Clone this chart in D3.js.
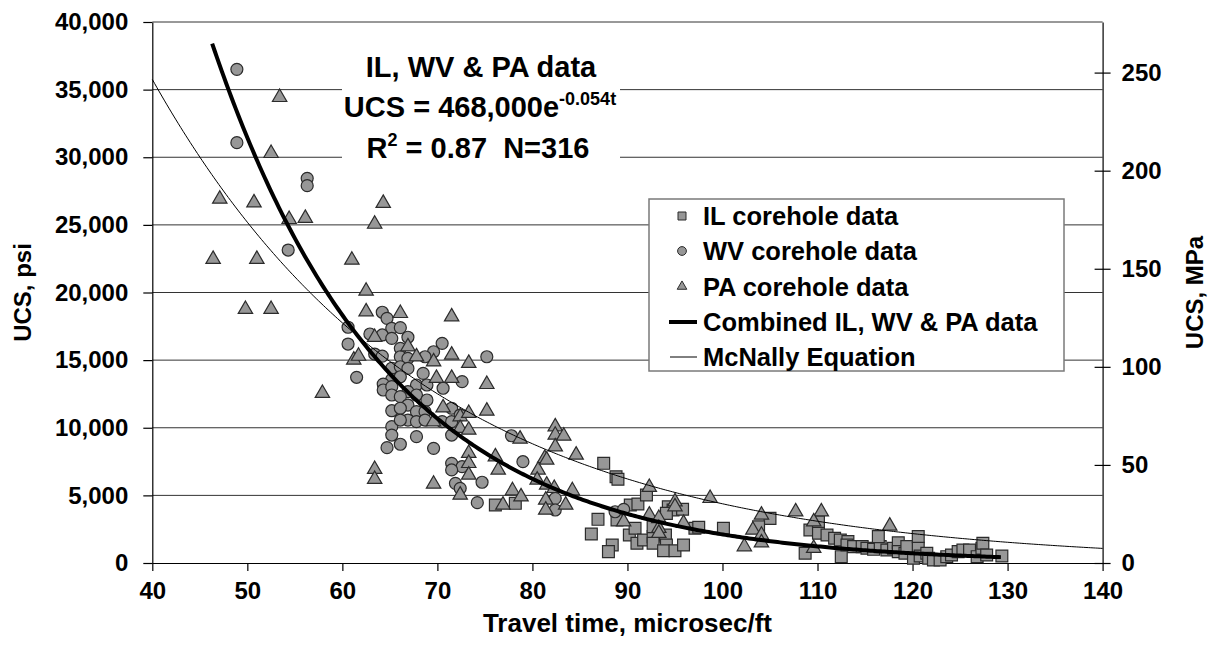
<!DOCTYPE html>
<html><head><meta charset="utf-8">
<script src="https://cdn.jsdelivr.net/npm/d3@7"></script>
<style>
html,body{margin:0;padding:0;background:#fff;}
text{font-family:"Liberation Sans",Arial,sans-serif;font-weight:bold;fill:#000;}
</style></head>
<body>
<svg id="chart" width="1216" height="652"></svg>
<script>
// ---- data (travel time microsec/ft, UCS psi) ----
const ilData = [
[76.1,4290],[78.2,4410],[87.5,7370],[88.8,6380],[89.0,6190],[86.9,3230],[86.2,2140],[88.4,1330],[88.0,840],[90.3,4290],[91.1,4360],[92.0,5030],[88.9,3180],[90.2,2070],[90.8,2570],[91.0,1460],[91.7,1700],[92.7,1950],[92.7,1460],[94.0,2070],[94.1,1330],[93.8,910],[95.0,910],[95.9,1330],[94.3,4160],[94.8,3920],[95.8,3970],[97.1,2570],[94.1,3670],[92.7,2680],
[97.5,2640],[100.1,2570],[105.0,3300],[103.8,2680],[108.7,720],[109.2,2440],[110.1,3050],[110.1,2200],[111.0,2070],[111.8,1830],[112.4,1700],[113.2,1580],[112.5,470],[113.1,1330],[113.8,1210],[114.7,1210],[115.2,1090],[115.9,1010],[116.6,1210],[117.3,960],[118.0,1090],[118.5,1500],[118.5,840],[119.2,720],[119.4,1210],[120.1,350],[120.6,1950],[120.6,1090],[120.8,520],[121.5,720],[121.7,350],[122.2,220],[122.9,220],[123.6,470],[124.1,590],[124.8,840],[125.3,960],[126.0,960],[126.8,470],[127.3,1090],[127.4,1460],[127.8,590],[129.4,520],[116.4,1950]
];
const wvData = [
[48.9,36500],[48.9,31080],[56.3,28440],[56.3,27900],[54.3,23140],
[64.2,18540],[64.7,18090],[60.6,17430],[65.2,17350],[62.9,16930],[64.2,16860],[65.2,16610],[60.6,16190],[63.4,15450],[64.2,15300],[65.2,14400],[61.5,13730],[65.2,13580],[64.3,13230],[64.3,12790],[65.2,13040],[65.2,12420],[65.2,11260],[65.2,10080],[65.2,9460],[64.7,8530],
[66.1,17400],[66.9,16690],[66.1,15870],[70.5,16240],[69.6,15620],[66.1,15250],[66.9,15130],[68.7,15250],[66.1,14510],[66.9,14390],[68.5,14020],[66.1,13770],[67.8,13160],[68.9,13160],[66.9,12670],[66.1,12300],[67.8,12420],[68.9,12050],[66.9,11680],[66.1,11440],[67.8,11190],[68.7,11190],[66.9,10570],[67.8,10450],[66.1,10570],[68.7,10570],[70.5,10450],[71.5,10450],[71.5,11440],[72.6,13410],[70.6,12920],[75.2,15250],[66.1,8780],[67.8,9340],[69.6,8480],[77.8,9410],[71.5,9460],[72.4,10940],[71.5,7370],[72.6,7120],[71.5,6880],[79.0,7490],
[74.2,4460],[74.7,5970],[71.9,5890],[72.4,5520],[82.4,4780],[82.4,3920],[88.7,3790],[89.6,3970]
];
const paData = [
[53.4,34430],[52.5,30290],[47.1,26910],[50.7,26640],[64.3,26600],[54.4,25410],[56.1,25490],[63.4,25060],[46.4,22460],[51.0,22460],[61.0,22400],
[62.5,20110],
[49.8,18760],[52.5,18760],[62.5,18580],[66.1,18460],[63.4,16690],[61.2,15010],[61.7,15300],[57.9,12550],[63.4,6930],[63.4,6190],[69.6,5840],
[71.5,18210],[66.9,15990],[67.8,15250],[69.6,14880],[71.5,15380],[73.3,14770],[69.9,13660],[71.5,13660],[75.2,13210],[70.6,11480],[72.4,10820],[73.3,11070],[75.2,11240],[69.6,10450],[72.4,9960],[73.3,9830],[78.7,9170],[73.3,8110],[76.1,7860],[73.3,7370],[76.4,6880],[80.6,6880],[81.3,7740],
[72.4,5030],[76.9,4290],[77.9,5350],[78.8,4900],[73.3,6510],[80.5,6140],[81.5,5770],[81.4,4660],[81.4,3920],[83.5,4290],[82.3,5520],[84.2,5350],[82.4,10080],[82.4,9460],[83.3,9390],[82.4,8600],[84.6,7990],[81.5,7620],[92.3,5600],[92.3,3550],[93.3,3300],[93.3,2570],[93.3,2200],[95.0,4530],[95.0,4160],[95.9,2940],[89.6,3050],
[98.7,4780],[104.1,3550],[103.2,2440],[104.1,2070],[104.1,1500],[102.3,1210],[107.7,3790],[110.4,3790],[109.6,3050],[109.6,1090],[117.6,2740]
];
// fitted curves: UCS = A * exp(-k t)
const combinedFit = {A: 468000, k: 0.054, tMin: 46.3, tMax: 129.5};
const mcnallyFit = {A: 145000, k: 0.035, tMin: 40, tMax: 140};
const xTicks = [40,50,60,70,80,90,100,110,120,130,140];
const yTicks = [0,5000,10000,15000,20000,25000,30000,35000,40000];
const mpaTicks = [0,50,100,150,200,250];
const PSI_PER_MPA = 145.0377;
const legendItems = ["IL corehole data","WV corehole data","PA corehole data","Combined IL, WV & PA data","McNally Equation"];

// ---- layout ----
const svg = d3.select("#chart");
const X0 = 152.3, X1 = 1102.6, Y0 = 563, Y1 = 22;
const x = d3.scaleLinear().domain([40,140]).range([X0,X1]);
const y = d3.scaleLinear().domain([0,40000]).range([Y0,Y1]);
const yR = d3.scaleLinear().domain([0,40000/PSI_PER_MPA]).range([Y0,Y1]);

const FILL = "#979797", STROKE = "#2b2b2b";

// gridlines
svg.append("g").selectAll("line").data(yTicks.filter(d=>d>0)).join("line")
  .attr("x1",X0).attr("x2",X1).attr("y1",d=>y(d)).attr("y2",d=>y(d))
  .attr("stroke","#333").attr("stroke-width",1);

// annotation background
svg.append("rect").attr("x",342).attr("y",40).attr("width",278).attr("height",126).attr("fill","#fff");

// axes
const gL = svg.append("g").attr("transform",`translate(${X0},0)`)
  .call(d3.axisLeft(y).tickValues(yTicks).tickSize(9).tickSizeOuter(0).tickPadding(15).tickFormat(d3.format(",")));
const gR = svg.append("g").attr("transform",`translate(${X1},0)`)
  .call(d3.axisRight(yR).tickValues(mpaTicks).tickSize(8).tickSizeOuter(0).tickPadding(11));
gR.selectAll(".tick line").attr("x1",-8);
const gB = svg.append("g").attr("transform",`translate(0,${Y0})`)
  .call(d3.axisBottom(x).tickValues(xTicks).tickSize(8).tickSizeOuter(0).tickPadding(11));
[gL,gR,gB].forEach(g=>{
  g.selectAll("path.domain").attr("stroke","#000").attr("stroke-width",1.2);
  g.selectAll(".tick line").attr("stroke","#000").attr("stroke-width",1.2);
  g.selectAll("text").attr("font-size",24).attr("font-family",'"Liberation Sans",Arial,sans-serif').attr("font-weight","bold").attr("fill","#000");
});

// axis titles
svg.append("text").attr("transform",`translate(31,${(Y0+Y1)/2}) rotate(-90)`).attr("text-anchor","middle").attr("font-size",24).text("UCS, psi");
svg.append("text").attr("transform",`translate(1203,${(Y0+Y1)/2}) rotate(-90)`).attr("text-anchor","middle").attr("font-size",24).text("UCS, MPa");
svg.append("text").attr("x",(X0+X1)/2).attr("y",632).attr("text-anchor","middle").attr("font-size",26).text("Travel time, microsec/ft");

// markers
const sq = d3.symbol().type(d3.symbolSquare).size(140);
const tri = d3.symbol().type(d3.symbolTriangle).size(90);
svg.append("g").selectAll("path").data(ilData).join("path")
  .attr("d",sq).attr("transform",d=>`translate(${x(d[0])},${y(d[1])})`)
  .attr("fill",FILL).attr("stroke",STROKE).attr("stroke-width",1.2);
svg.append("g").selectAll("circle").data(wvData).join("circle")
  .attr("cx",d=>x(d[0])).attr("cy",d=>y(d[1])).attr("r",6)
  .attr("fill",FILL).attr("stroke",STROKE).attr("stroke-width",1.2);
svg.append("g").selectAll("path").data(paData).join("path")
  .attr("d",tri).attr("transform",d=>`translate(${x(d[0])},${y(d[1])})`)
  .attr("fill",FILL).attr("stroke",STROKE).attr("stroke-width",1.2);

// curves
function curvePts(f){ return d3.range(f.tMin, f.tMax+0.001, 0.25).map(t=>[t, f.A*Math.exp(-f.k*t)]); }
const line = d3.line().x(d=>x(d[0])).y(d=>y(d[1]));
svg.append("path").attr("d",line(curvePts(mcnallyFit))).attr("fill","none").attr("stroke","#000").attr("stroke-width",1);
svg.append("path").attr("d",line(curvePts(combinedFit))).attr("fill","none").attr("stroke","#000").attr("stroke-width",4);

// annotation text
const ann = svg.append("g").attr("font-size",29);
ann.append("text").attr("x",481).attr("y",77).attr("text-anchor","middle").attr("font-size",29).text("IL, WV & PA data");
const t2 = ann.append("text").attr("x",480).attr("y",117).attr("text-anchor","middle").attr("font-size",29);
t2.append("tspan").text("UCS = 468,000e");
t2.append("tspan").attr("dy",-12).attr("font-size",18).text("-0.054t");
const t3 = ann.append("text").attr("x",478).attr("y",158).attr("text-anchor","middle").attr("font-size",29).style("white-space","pre");
t3.append("tspan").text("R");
t3.append("tspan").attr("dy",-12).attr("font-size",18).text("2");
t3.append("tspan").attr("dy",12).text(" = 0.87  N=316");

// legend
const lg = svg.append("g");
lg.append("rect").attr("x",649).attr("y",199).attr("width",415).attr("height",172)
  .attr("fill","#fff").attr("stroke","#7a7a7a").attr("stroke-width",1.5);
const rowY = [216,251,286.5,322,357];
const mx = 682;
lg.append("path").attr("d",d3.symbol().type(d3.symbolSquare).size(64)()).attr("transform",`translate(${mx},${rowY[0]})`).attr("fill",FILL).attr("stroke",STROKE);
lg.append("circle").attr("cx",mx).attr("cy",rowY[1]).attr("r",4.4).attr("fill",FILL).attr("stroke",STROKE);
lg.append("path").attr("d",d3.symbol().type(d3.symbolTriangle).size(40)()).attr("transform",`translate(${mx},${rowY[2]})`).attr("fill",FILL).attr("stroke",STROKE);
lg.append("line").attr("x1",669).attr("x2",697).attr("y1",rowY[3]).attr("y2",rowY[3]).attr("stroke","#000").attr("stroke-width",4);
lg.append("line").attr("x1",670).attr("x2",697).attr("y1",rowY[4]).attr("y2",rowY[4]).attr("stroke","#000").attr("stroke-width",1);
lg.selectAll("text.lt").data(legendItems).join("text").attr("class","lt")
  .attr("x",703).attr("y",(d,i)=>rowY[i]+9).attr("font-size",25.5).text(d=>d);
</script>
</body></html>
